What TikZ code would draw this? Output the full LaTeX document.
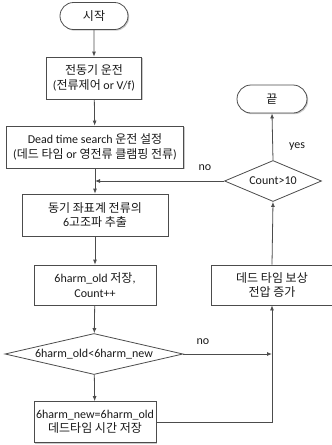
\documentclass[tikz,border=0pt]{standalone}
\usepackage{fontspec}
\setmainfont{Carlito}
\newfontfamily\kr{Noto Sans CJK KR}
\usetikzlibrary{shapes.geometric,shapes.misc,shadows,arrows.meta}
\begin{document}
\begin{tikzpicture}[x=1pt,y=-1pt,
  every node/.style={font=\fontsize{12}{14.5}\selectfont, text=black!90, align=center, inner sep=0pt},
  ln/.style={draw=black!70, line width=0.8pt},
  arr/.style={ln, -{Latex[length=5pt,width=4pt]}},
  shd/.style={drop shadow={shadow xshift=1.2pt, shadow yshift=-1.2pt, fill=black!35, opacity=0.6}},
  procbox/.style={rectangle, ln, fill=white, shd},
  term/.style={rounded rectangle, ln, fill=white, shd},
  dec/.style={diamond, ln, fill=white}
]
\useasboundingbox (0,0) rectangle (332,445);
\node[term, minimum width=68pt, minimum height=27pt] (start) at (94,16) {\kr 시작};
\node[procbox, minimum width=95pt, minimum height=42pt] (b1) at (94,78) {\kr 전동기 운전\\(\kr 전류제어 \rm or V/f)};
\node[procbox, minimum width=177pt, minimum height=42pt] (b2) at (95,147) {Dead time search {\kr 운전 설정}\\({\kr 데드 타임} or {\kr 영전류 클램핑 전류})};
\node[procbox, minimum width=146pt, minimum height=42pt] (b3) at (95,215) {\kr 동기 좌표계 전류의\\6{\kr 고조파 추출}};
\node[procbox, minimum width=122pt, minimum height=40pt] (b4) at (95,285) {6harm\_old {\kr 저장},\\Count++};
\node[dec, minimum width=178pt, minimum height=41pt, aspect=4.34] (d1) at (94,354) {6harm\_old<6harm\_new};
\node[procbox, minimum width=122pt, minimum height=41pt] (b5) at (95,422) {6harm\_new=6harm\_old\\{\kr 데드타임 시간 저장}};
\node[procbox, minimum width=122pt, minimum height=40pt] (b6) at (272,285) {\kr 데드 타임 보상\\\kr 전압 증가};
\node[dec, minimum width=97pt, minimum height=41pt, aspect=2.37] (d2) at (273,181) {Count>10};
\node[term, minimum width=70pt, minimum height=28pt] (end) at (272,99) {\kr 끝};
\node (lno1) at (205,168) {no};
\node (lyes) at (297,147) {yes};
\node (lno2) at (203,342) {no};
\draw[arr] (start) -- (b1);
\draw[arr] (b1) -- (b2);
\draw[arr] (b2) -- (b3);
\draw[arr] (b3) -- (b4);
\draw[arr] (b4) -- (d1);
\draw[arr] (d1) -- (b5);
\draw[arr] (d1.east) -- (b6.south |- d1.east);
\draw[arr] (b5.east) -- (b5.east -| b6.south) -- (b6.south);
\draw[arr] (b6.north) -- (d2.south);
\draw[arr] (d2.north) -- (end.south);
\draw[arr] (d2.west) -- (b3.north |- d2.west);
\end{tikzpicture}
\end{document}
